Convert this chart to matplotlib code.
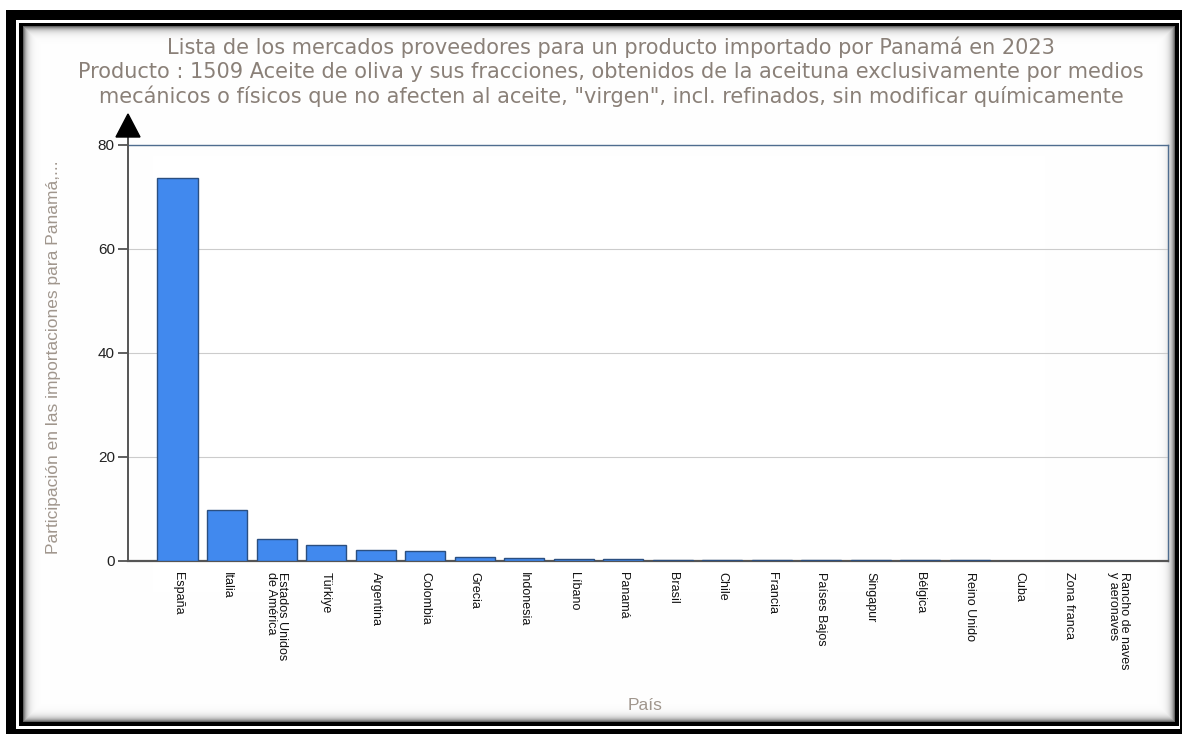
import numpy as np
import matplotlib.pyplot as plt
from matplotlib.patches import Polygon
from matplotlib.lines import Line2D

# --- Data: share of Panama's imports of product 1509 by supplier (2023) ---
paises = [
    "España", "Italia", "Estados Unidos\nde América", "Türkiye", "Argentina",
    "Colombia", "Grecia", "Indonesia", "Líbano", "Panamá", "Brasil", "Chile",
    "Francia", "Países Bajos", "Singapur", "Bélgica", "Reino Unido", "Cuba",
    "Zona franca", "Rancho de naves\ny aeronaves",
]
participacion = [
    73.7, 9.9, 4.3, 3.1, 2.2, 2.0, 0.8, 0.6, 0.4, 0.4,
    0.1, 0.1, 0.1, 0.1, 0.1, 0.1, 0.1, 0.0, 0.0, 0.0,
]
y_ticks = [0, 20, 40, 60, 80]

titulo = (
    "Lista de los mercados proveedores para un producto importado por Panamá en 2023\n"
    "Producto : 1509 Aceite de oliva y sus fracciones, obtenidos de la aceituna exclusivamente por medios\n"
    "mecánicos o físicos que no afecten al aceite, \"virgen\", incl. refinados, sin modificar químicamente"
)
y_label = "Participación en las importaciones para Panamá,..."
x_label = "País"

W, H = 1182, 734
BAR_COLOR = "#4189ee"
BAR_EDGE = "#2b4f80"
TEXT_GRAY = "#a0968d"
TITLE_GRAY = "#8a8078"

fig = plt.figure(figsize=(W / 100, H / 100), dpi=100)
fig.patch.set_facecolor("white")

# --- Double black frame with a soft inner shadow, drawn as a pixel image ---
frame = np.ones((H, W, 3))
frame[10:, 6:] = 0.0
frame[20:729, 16:1180] = 1.0
frame[23:726, 19:1179] = 0.0
top, bot, lft, rgt = 26, 722, 23, 1175
rows = np.arange(top, bot)[:, None]
cols = np.arange(lft, rgt)[None, :]
dist = np.minimum(np.minimum(rows - top, bot - 1 - rows),
                  np.minimum(cols - lft, rgt - 1 - cols))
shade = 1.0 - 0.6 * np.exp(-dist / 3.5)
frame[top:bot, lft:rgt] = shade[:, :, None]
fig.figimage(frame, xo=0, yo=0, origin="upper", zorder=-5)

# --- Axes placed on the pixel grid of the plot area ---
x0, x1, y_top, y_bot = 128, 1168, 145, 561
ax = fig.add_axes([x0 / W, 1 - y_bot / H, (x1 - x0) / W, (y_bot - y_top) / H])
ax.set_facecolor("none")

pos = np.arange(1, len(paises) + 1)
ax.bar(pos, participacion, width=0.81, color=BAR_COLOR,
       edgecolor=BAR_EDGE, linewidth=1.0, zorder=3)

ax.set_xlim(0, len(paises) + 1)
ax.set_ylim(0, 80)
ax.set_yticks(y_ticks)
ax.set_yticklabels([str(v) for v in y_ticks],
                   fontfamily="Liberation Sans", fontsize=11, color="#222222")
ax.tick_params(axis="y", length=7.5, width=1.2, color="#444444", pad=2)
ax.yaxis.grid(True, color="#cccccc", linewidth=0.8, zorder=0)
ax.set_axisbelow(True)

ax.set_xticks(pos)
ax.set_xticklabels(paises, rotation=270, ha="center", va="top",
                   multialignment="left", fontfamily="Liberation Sans",
                   fontsize=9, color="#111111", linespacing=0.95)
ax.tick_params(axis="x", length=0, pad=8)

for side in ("top", "right"):
    ax.spines[side].set_color("#4f6d8f")
    ax.spines[side].set_linewidth(1.0)
ax.spines["bottom"].set_color("#555555")
ax.spines["bottom"].set_linewidth(1.6)
ax.spines["left"].set_visible(False)

# Left axis line running up into an arrowhead above the top of the scale
ax.add_line(Line2D([0, 0], [0, 1.03], transform=ax.transAxes,
                   color="#555555", linewidth=1.4, clip_on=False, zorder=4))
hw = 12 / (x1 - x0)
ax.add_patch(Polygon([[-hw, 1 + 8 / 416], [hw, 1 + 8 / 416], [0, 1 + 31 / 416]],
                     closed=True, transform=ax.transAxes, color="black",
                     clip_on=False, zorder=5))

# Axis titles
fig.text(54 / W, 1 - 357 / H, y_label, rotation=90, ha="center", va="center",
         fontfamily="Liberation Sans", fontsize=12.5, color=TEXT_GRAY)
fig.text(645 / W, 1 - 705 / H, x_label, ha="center", va="center",
         fontfamily="Liberation Sans", fontsize=12.5, color=TEXT_GRAY)

# Chart title
fig.text(611 / W, 1 - 72 / H, titulo, ha="center", va="center",
         multialignment="center", fontfamily="DejaVu Sans", fontsize=15,
         color=TITLE_GRAY, linespacing=1.22)

fig.savefig("out.png", dpi=100)
